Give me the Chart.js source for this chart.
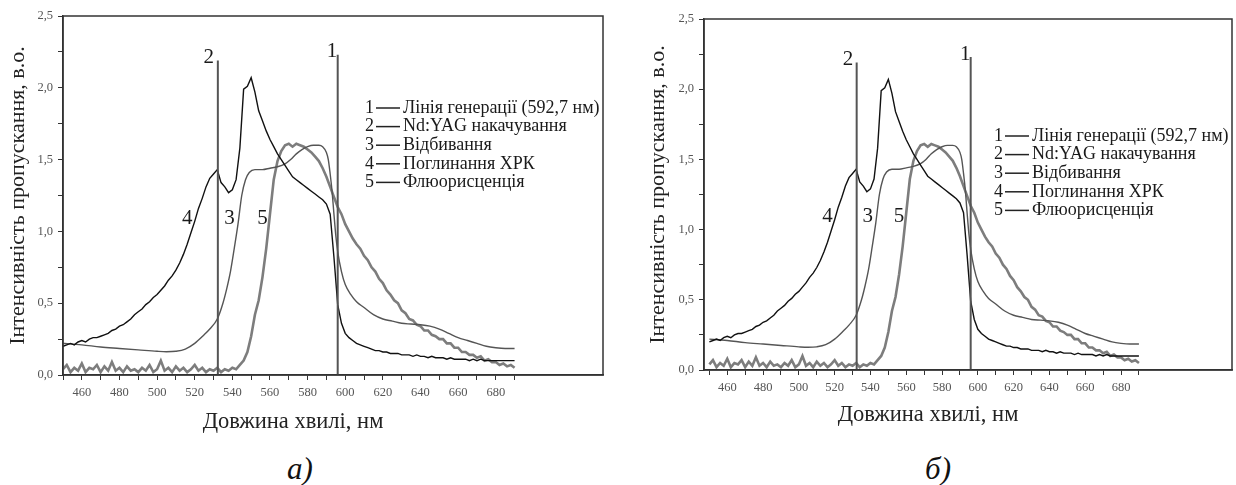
<!DOCTYPE html>
<html lang="uk">
<head>
    <meta charset="UTF-8">
    <title>Спектри пропускання</title>
    <style>
        body {
            margin: 0;
            width: 1236px;
            height: 485px;
            overflow: hidden;
            position: relative;
            background: #fff;
            font-family: "Liberation Serif", "DejaVu Serif", serif;
        }
        .box {
            position: absolute;
            top: 0;
        }
        .cap {
            position: absolute;
            top: 451px;
            font-size: 31px;
            font-style: italic;
            color: #111;
            transform: translateX(-50%);
        }
    </style>
</head>
<body>
    <div class="box" style="left:0px"><canvas id="chartA" width="612" height="445"></canvas></div>
    <div class="box" style="left:640px"><canvas id="chartB" width="596" height="445"></canvas></div>
    <div class="cap" style="left:300px">а)</div>
    <div class="cap" style="left:938px">б)</div>

    <script src="https://cdn.jsdelivr.net/npm/chart.js"></script>
    <script>
        // довжини хвиль (нм), крок 2 нм
        const wl = [450,452,454,456,458,460,462,464,466,468,470,472,474,476,478,480,482,484,486,488,
            490,492,494,496,498,500,502,504,506,508,510,512,514,516,518,520,522,524,526,528,
            530,532,534,536,538,540,542,544,546,548,550,552,554,556,558,560,562,564,566,568,
            570,572,574,576,578,580,582,584,586,588,590,592,594,596,598,600,602,604,606,608,
            610,612,614,616,618,620,622,624,626,628,630,632,634,636,638,640,642,644,646,648,
            650,652,654,656,658,660,662,664,666,668,670,672,674,676,678,680,682,684,686,688,690];

        // 4 - поглинання ХРК
        const absorb = [0.20,0.21,0.22,0.21,0.23,0.24,0.23,0.25,0.26,0.26,0.27,0.28,0.29,0.31,0.32,0.34,0.35,0.37,0.39,0.42,
            0.44,0.46,0.49,0.51,0.54,0.56,0.59,0.62,0.66,0.69,0.73,0.78,0.84,0.91,0.99,1.07,1.16,1.23,1.31,1.37,
            1.40,1.43,1.34,1.31,1.27,1.29,1.36,1.58,1.99,2.01,2.07,1.97,1.84,1.77,1.70,1.64,1.59,1.54,1.50,1.46,
            1.42,1.38,1.36,1.34,1.32,1.30,1.28,1.26,1.24,1.22,1.19,1.12,0.82,0.49,0.36,0.29,0.26,0.24,0.22,0.21,
            0.20,0.19,0.18,0.17,0.17,0.16,0.16,0.15,0.15,0.15,0.14,0.14,0.14,0.13,0.14,0.13,0.13,0.12,0.13,0.12,
            0.12,0.12,0.11,0.12,0.11,0.11,0.11,0.11,0.10,0.11,0.10,0.11,0.10,0.10,0.10,0.10,0.10,0.10,0.10,0.10,0.10];

        // 5 - флюорисценція
        const fluor = [0.04,0.07,0.02,0.05,0.03,0.08,0.02,0.05,0.04,0.07,0.02,0.06,0.03,0.09,0.03,0.05,0.02,0.06,0.03,0.04,
            0.02,0.05,0.03,0.07,0.02,0.04,0.10,0.03,0.05,0.02,0.06,0.03,0.05,0.02,0.04,0.07,0.03,0.05,0.02,0.04,
            0.03,0.05,0.02,0.04,0.03,0.05,0.04,0.07,0.10,0.16,0.27,0.42,0.52,0.68,0.88,1.12,1.36,1.49,1.56,1.60,
            1.61,1.59,1.61,1.60,1.59,1.57,1.55,1.52,1.49,1.44,1.38,1.31,1.24,1.17,1.12,1.05,1.00,0.95,0.91,0.88,
            0.83,0.80,0.75,0.72,0.67,0.64,0.59,0.56,0.52,0.50,0.45,0.43,0.39,0.38,0.35,0.34,0.31,0.31,0.28,0.27,
            0.25,0.25,0.22,0.22,0.19,0.19,0.16,0.16,0.14,0.14,0.12,0.13,0.10,0.11,0.09,0.09,0.07,0.08,0.06,0.07,0.05];

        // 3 - відбивання (гладка крива)
        const wlBleach = [450,455,460,470,480,490,500,505,510,515,520,525,528,532,535,537,539,541,543,545,
            547,549,552,556,560,564,568,571,574,577,580,583,586,588,590,591,592,593,594,595,
            596,598,600,603,606,610,615,620,625,630,635,640,645,650,655,660,665,670,675,680,685,690];
        const bleach = [0.22,0.215,0.21,0.195,0.185,0.175,0.165,0.162,0.165,0.18,0.22,0.28,0.32,0.39,0.50,0.60,0.72,0.88,1.05,1.25,
            1.36,1.41,1.43,1.43,1.44,1.45,1.47,1.50,1.54,1.57,1.59,1.60,1.60,1.59,1.55,1.50,1.40,1.28,1.12,0.97,
            0.86,0.72,0.63,0.56,0.51,0.47,0.42,0.39,0.375,0.36,0.355,0.35,0.34,0.32,0.29,0.26,0.24,0.22,0.20,0.19,0.185,0.185];

        // 1 - лінія генерації, 2 - Nd:YAG накачування
        const genLineX = [596, 596];
        const genLineY = [0, 2.23];
        const pumpLineX = [532.3, 532.3];
        const pumpLineY = [0, 2.19];

        const legendNames = ['Лінія генерації (592,7 нм)', 'Nd:YAG накачування', 'Відбивання', 'Поглинання ХРК', 'Флюорисценція'];
        const tagText = ['1', '2', '4', '3', '5'];
        const tagX = [593, 527.5, 516, 538.5, 556];
        const tagY = [2.25, 2.21, 1.09, 1.09, 1.09];

        const xTickVals = [450,460,470,480,490,500,510,520,530,540,550,560,570,580,590,600,610,620,630,640,650,660,670,680,690];
        const yTickVals = [0,0.25,0.5,0.75,1,1.25,1.5,1.75,2,2.25,2.5];

        const serif = '"Liberation Serif", "DejaVu Serif", serif';

        function pts(xs, ys) {
            return xs.map((x, i) => ({x: x, y: ys[i]}));
        }

        const decor = {
            id: 'decor',
            afterDraw(chart, args, o) {
                const ctx = chart.ctx;
                const a = chart.chartArea;
                const x = chart.scales.x, y = chart.scales.y;
                ctx.save();
                // рамка
                ctx.strokeStyle = '#333';
                ctx.lineWidth = 1.5;
                ctx.strokeRect(a.left, a.top, a.right - a.left, a.bottom - a.top);

                // номери кривих
                ctx.fillStyle = '#1a1a1a';
                ctx.textAlign = 'center';
                ctx.textBaseline = 'middle';
                ctx.font = '21px ' + serif;
                tagText.forEach((t, i) => {
                    ctx.fillText(t, x.getPixelForValue(tagX[i]), y.getPixelForValue(tagY[i]));
                });

                // легенда
                ctx.font = '18px ' + serif;
                ctx.textAlign = 'left';
                ctx.strokeStyle = '#222';
                ctx.lineWidth = 1.5;
                legendNames.forEach((name, i) => {
                    const ly = a.top + o.legendTop + i * 18.6;
                    const lx = a.right - o.legendRight;
                    ctx.fillText(String(i + 1), lx, ly);
                    ctx.beginPath();
                    ctx.moveTo(lx + 11, ly);
                    ctx.lineTo(lx + 35, ly);
                    ctx.stroke();
                    ctx.fillText(name, lx + 38, ly);
                });

                // підпис осі X
                ctx.font = '22.5px ' + serif;
                ctx.textAlign = 'center';
                ctx.fillStyle = '#222';
                ctx.fillText('Довжина хвилі, нм', o.titleX, o.titleY);
                ctx.restore();
            }
        };

        function makeChart(id, s) {
            new Chart(document.getElementById(id), {
                type: 'line',
                data: {
                    datasets: [
                        { label: '1', data: pts(genLineX, genLineY), borderColor: '#555', borderWidth: 2, order: 0 },
                        { label: '2', data: pts(pumpLineX, pumpLineY), borderColor: '#555', borderWidth: 2, order: 0 },
                        { label: '4', data: pts(wl, absorb), borderColor: '#111', borderWidth: 1.4, order: 1 },
                        { label: '3', data: pts(wlBleach, bleach), borderColor: '#555', borderWidth: 1.4, cubicInterpolationMode: 'monotone', order: 2 },
                        { label: '5', data: pts(wl, fluor), borderColor: '#7d7d7d', borderWidth: 2.6, order: 3 }
                    ]
                },
                options: {
                    responsive: false,
                    animation: false,
                    devicePixelRatio: 1,
                    elements: { point: { radius: 0 } },
                    layout: { padding: { top: s.top, right: s.right, left: 0, bottom: 0 } },
                    plugins: {
                        legend: { display: false },
                        tooltip: { enabled: false },
                        decor: { legendTop: s.legendTop, legendRight: 238, titleX: s.titleX, titleY: s.titleY }
                    },
                    scales: {
                        x: {
                            type: 'linear',
                            min: s.xMin,
                            max: s.xMax,
                            afterBuildTicks: sc => { sc.ticks = xTickVals.map(v => ({ value: v })); },
                            afterFit: sc => { sc.height = s.xHeight; },
                            ticks: {
                                autoSkip: false,
                                maxRotation: 0,
                                padding: 5,
                                color: '#555',
                                font: { family: serif, size: 12.5 },
                                callback: v => (v % 20 === 0 && v >= 460 && v <= 680) ? String(v) : ''
                            },
                            grid: { drawOnChartArea: false, drawTicks: true, tickLength: 5, color: '#333' },
                            border: { display: true, color: '#333', width: 1.5 }
                        },
                        y: {
                            min: 0,
                            max: 2.5,
                            afterBuildTicks: sc => { sc.ticks = yTickVals.map(v => ({ value: v })); },
                            afterFit: sc => { sc.width = s.yWidth; },
                            ticks: {
                                padding: 5,
                                color: '#555',
                                font: { family: serif, size: 12.5 },
                                callback: v => (Math.abs(v * 2 - Math.round(v * 2)) < 1e-6) ? v.toFixed(1).replace('.', ',') : ''
                            },
                            grid: { drawOnChartArea: false, drawTicks: true, tickLength: 5, color: '#333' },
                            border: { display: true, color: '#333', width: 1.5 },
                            title: {
                                display: true,
                                text: 'Інтенсивність пропускання, в.о.',
                                color: '#222',
                                font: { family: serif, size: 22 },
                                padding: { top: 5, bottom: 0 }
                            }
                        }
                    }
                },
                plugins: [decor]
            });
        }

        makeChart('chartA', { xMin: 450, xMax: 737, top: 16, right: 9, yWidth: 63, xHeight: 445 - 375, legendTop: 92, titleX: 293, titleY: 422 });
        makeChart('chartB', { xMin: 447, xMax: 742, top: 19, right: 4, yWidth: 64, xHeight: 445 - 370, legendTop: 117, titleX: 288, titleY: 415 });
    </script>
</body>
</html>
